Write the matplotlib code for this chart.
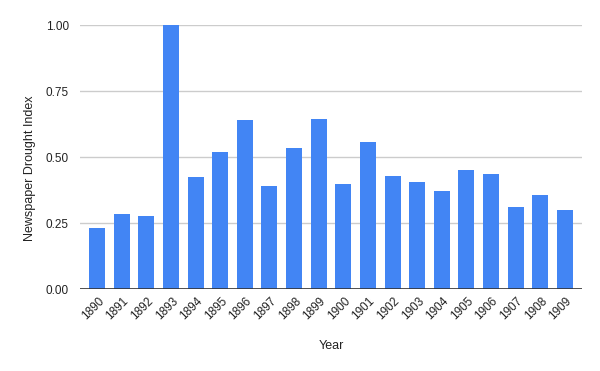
import matplotlib
matplotlib.use("Agg")
import matplotlib.pyplot as plt
import matplotlib.transforms as mtransforms
import numpy as np

plt.rcParams['font.family'] = ['Liberation Sans', 'DejaVu Sans']

# values
years = ['1890', '1891', '1892', '1893', '1894', '1895', '1896', '1897', '1898', '1899',
         '1900', '1901', '1902', '1903', '1904', '1905', '1906', '1907', '1908', '1909']
drought_index = [0.231, 0.285, 0.278, 1.0, 0.425, 0.520, 0.641, 0.391, 0.535, 0.645,
                 0.399, 0.558, 0.429, 0.407, 0.372, 0.452, 0.437, 0.312, 0.357, 0.301]
yticks = [0.0, 0.25, 0.5, 0.75, 1.0]

fig = plt.figure(figsize=(6, 3.71), dpi=100)
ax = fig.add_axes([80 / 600, 1 - 289.3 / 371, 502 / 600, 264 / 371])

x = np.arange(len(years))
ax.bar(x, drought_index, width=0.65, color='#4285F4', zorder=3)

ax.set_xlim(-0.7, len(years) - 0.3)
ax.set_ylim(0, 1)
ax.set_yticks(yticks)
ax.set_yticklabels(['%.2f' % v for v in yticks])
ax.grid(axis='y', color='#cccccc', linewidth=1, zorder=0)
ax.axhline(0, color='#333333', linewidth=1.2, zorder=4)

for s in ax.spines.values():
    s.set_visible(False)
ax.tick_params(axis='both', length=0, labelsize=8.5, labelcolor='#222222')
ax.tick_params(axis='y', pad=8)

ax.set_xticks(x)
ax.set_xticklabels(years, rotation=45, ha='right', va='center', rotation_mode='anchor')
ax.tick_params(axis='x', pad=7)
# nudge rotated labels to the right like the original
shift = mtransforms.ScaledTranslation(5 / 100, 0, fig.dpi_scale_trans)
for lab in ax.get_xticklabels():
    lab.set_transform(lab.get_transform() + shift)

ax.set_xlabel('Year', fontsize=9, color='#222222', labelpad=13)
ax.set_ylabel('Newspaper Drought Index', fontsize=9, color='#222222')
ax.yaxis.set_label_coords(-0.088, 0.458)

fig.savefig('out.png', dpi=100, facecolor='white')
